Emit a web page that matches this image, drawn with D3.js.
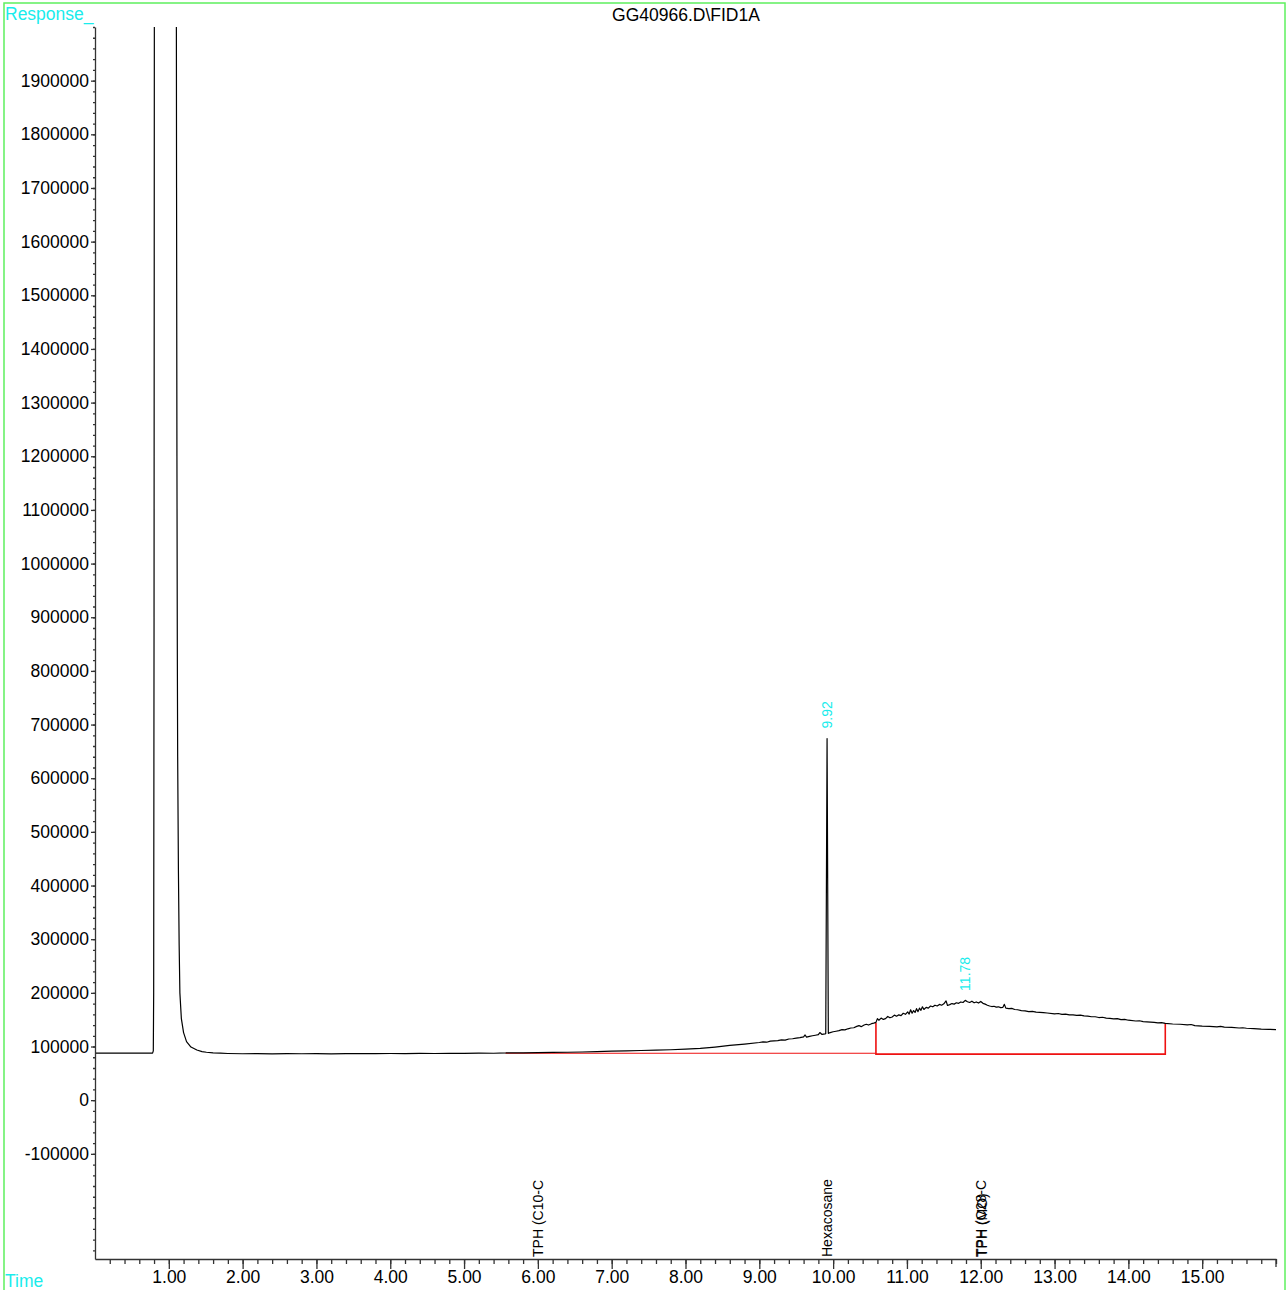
<!DOCTYPE html>
<html>
<head>
<meta charset="utf-8">
<script src="https://cdn.jsdelivr.net/npm/d3@7"></script>
<style>
  html, body { margin: 0; padding: 0; background: #fff; }
  svg { display: block; font-family: "Liberation Sans", Arial, sans-serif; }
</style>
</head>
<body>
<svg id="chart" width="1288" height="1290"></svg>
<script>
// ---------------- DATA ----------------
const chartTitle = "GG40966.D\\FID1A";
const yAxisTitle = "Response_";
const xAxisTitle = "Time";

const xTickValues = [1, 2, 3, 4, 5, 6, 7, 8, 9, 10, 11, 12, 13, 14, 15];
const yTickValues = [-100000, 0, 100000, 200000, 300000, 400000, 500000, 600000, 700000, 800000,
  900000, 1000000, 1100000, 1200000, 1300000, 1400000, 1500000, 1600000, 1700000, 1800000, 1900000];

// chromatogram trace: [time (min), response]
const chromData = [
  [0.00, 87500], [0.50, 87500], [0.78, 87600], [0.79, 92000], [0.795, 200000], [0.80, 900000], [0.805, 2300000],
  [0.95, 3500000], [1.10, 2300000], [1.105, 1700000], [1.11, 1200000], [1.115, 850000], [1.12, 640000],
  [1.13, 430000], [1.14, 290000], [1.15, 200000], [1.17, 152000], [1.20, 126000], [1.24, 109000],
  [1.30, 99000], [1.38, 93500], [1.45, 90500], [1.51, 89300], [1.60, 88000], [1.70, 87500], [1.80, 87000],
  [2.00, 86500], [2.20, 86800], [2.40, 86400], [2.60, 86700], [2.80, 86500], [3.00, 86900], [3.20, 86400],
  [3.40, 86600], [3.60, 86800], [3.80, 86600], [4.00, 87000], [4.20, 86900], [4.40, 87100], [4.60, 87000],
  [4.80, 87300], [5.00, 87200], [5.20, 87500], [5.40, 87400], [5.57, 88000], [5.60, 88200], [5.80, 88000],
  [6.00, 88600], [6.20, 88900], [6.40, 89300], [6.60, 89800], [6.80, 90500], [7.00, 91300], [7.20, 91800],
  [7.40, 92600], [7.60, 93200], [7.80, 94000], [8.00, 95000], [8.20, 96500], [8.40, 99000], [8.60, 102000],
  [8.80, 104500], [9.00, 107500], [9.05, 108500], [9.10, 108000], [9.15, 110000], [9.20, 110500], [9.25, 111000],
  [9.30, 112500], [9.35, 112000], [9.40, 114000], [9.45, 114500], [9.50, 115500], [9.55, 116500], [9.60, 118000],
  [9.62, 121500], [9.64, 117500], [9.68, 119000], [9.72, 120000], [9.76, 121000], [9.80, 122000], [9.82, 126000],
  [9.85, 122500], [9.89, 123500], [9.90, 124000], [9.918, 674000], [9.935, 124500], [9.96, 126000], [10.00, 127500],
  [10.04, 128500], [10.08, 129500], [10.12, 131500], [10.16, 131000], [10.20, 133000], [10.24, 134500], [10.28, 135000],
  [10.32, 137500], [10.35, 139000], [10.38, 137000], [10.42, 140000], [10.45, 141500], [10.48, 140000], [10.52, 142500],
  [10.55, 143500], [10.58, 145000], [10.60, 152000], [10.62, 149000], [10.65, 153000], [10.68, 150500], [10.71, 152000],
  [10.74, 156000], [10.77, 153500], [10.80, 155000], [10.83, 158500], [10.86, 156500], [10.89, 159000], [10.92, 157500],
  [10.95, 162000], [10.98, 160000], [11.01, 164500], [11.03, 160500], [11.05, 168500], [11.07, 162000], [11.09, 167000],
  [11.11, 163500], [11.13, 170500], [11.15, 165000], [11.17, 171500], [11.19, 167500], [11.21, 174000], [11.23, 169000],
  [11.26, 173000], [11.29, 171500], [11.32, 175500], [11.35, 174000], [11.38, 177000], [11.41, 175500], [11.44, 178500],
  [11.47, 177000], [11.50, 179500], [11.53, 185000], [11.55, 176500], [11.58, 178000], [11.61, 180000], [11.64, 179000],
  [11.67, 181500], [11.70, 180500], [11.73, 183000], [11.76, 182000], [11.79, 186000], [11.82, 183500], [11.85, 182000],
  [11.88, 184500], [11.91, 181500], [11.94, 183000], [11.97, 181000], [12.00, 184000], [12.03, 180500], [12.06, 179000],
  [12.09, 177000], [12.12, 175500], [12.15, 174500], [12.18, 175000], [12.21, 173500], [12.24, 174000], [12.27, 172500],
  [12.30, 173000], [12.32, 178500], [12.34, 171500], [12.38, 170500], [12.42, 171000], [12.46, 169000], [12.50, 168500],
  [12.55, 167000], [12.60, 166500], [12.65, 165000], [12.70, 165500], [12.75, 164000], [12.80, 163500], [12.85, 163000],
  [12.90, 162500], [13.00, 161000], [13.05, 161500], [13.10, 160000], [13.15, 160500], [13.20, 159000], [13.25, 159000],
  [13.30, 158000], [13.35, 158500], [13.40, 157000], [13.45, 156500], [13.50, 155500], [13.55, 155500], [13.60, 154000],
  [13.65, 154500], [13.70, 153000], [13.75, 152500], [13.80, 151500], [13.85, 152000], [13.90, 150000], [13.95, 150500],
  [14.00, 149000], [14.10, 147500], [14.15, 148000], [14.20, 146500], [14.30, 145500], [14.35, 145000], [14.40, 144000],
  [14.45, 144500], [14.50, 143000], [14.60, 142000], [14.70, 141500], [14.80, 140500], [14.85, 141000], [14.90, 139000],
  [15.00, 138000], [15.10, 137500], [15.20, 136500], [15.25, 137500], [15.30, 136000], [15.40, 135500], [15.50, 134500],
  [15.55, 135000], [15.60, 134000], [15.70, 133500], [15.80, 132500], [15.90, 132000], [16.00, 131500]
];

// integration baselines: start time, end time, baseline response, curve response at start, curve response at end
const integStart    = [5.57, 10.58];
const integEnd      = [10.58, 14.50];
const integBase     = [87400, 85800];
const integTopStart = [89000, 144500];
const integTopEnd   = [87400, 143000];

// peak retention-time labels
const peakTimes  = [9.92, 11.78];
const peakResp   = [674000, 185000];
const peakLabels = ["9.92", "11.78"];

// compound labels along the time axis
const compoundTimes  = [6.00, 9.92, 12.00, 12.02];
const compoundLabels = ["TPH (C10-C", "Hexacosane", "TPH (C28-C", "TPH (MO)"];

// ---------------- DRAW ----------------
const svg = d3.select("#chart");
const plot = { left: 95, right: 1276, top: 27, bottom: 1259 };

const x = d3.scaleLinear().domain([0, 16]).range([plot.left, plot.right]);
const y = d3.scaleLinear().domain([-296000, 2000000]).range([plot.bottom, plot.top]);

// green frame
svg.append("rect")
  .attr("x", 4).attr("y", 3).attr("width", 1281).attr("height", 1300)
  .attr("fill", "none").attr("stroke", "#5ef05e").attr("stroke-width", 1.5);

// titles
svg.append("text").attr("x", 686).attr("y", 21).attr("text-anchor", "middle")
  .attr("font-size", 17.5).attr("fill", "#000").text(chartTitle);
svg.append("text").attr("x", 5).attr("y", 20)
  .attr("font-size", 17.5).attr("fill", "#19ecec").text(yAxisTitle);
svg.append("text").attr("x", 5).attr("y", 1287)
  .attr("font-size", 17.5).attr("fill", "#19ecec").text(xAxisTitle);

// Y axis
const axisColor = "#333";
const yMinor = d3.range(-280000, 2000001, 20000);
const yAxisMinor = d3.axisLeft(y).tickValues(yMinor).tickSize(2).tickFormat("").tickSizeOuter(0);
const gyMinor = svg.append("g").attr("transform", `translate(${plot.left},0)`).call(yAxisMinor);
gyMinor.selectAll("path, line").attr("stroke", axisColor).attr("stroke-width", 1.3);

const yAxis = d3.axisLeft(y).tickValues(yTickValues).tickSize(4).tickSizeOuter(0)
  .tickFormat(d => String(d)).tickPadding(2);
const gy = svg.append("g").attr("transform", `translate(${plot.left},0)`).call(yAxis);
gy.select(".domain").remove();
gy.selectAll("line").attr("stroke", axisColor).attr("stroke-width", 1.3);
gy.selectAll("text").attr("font-size", 17.5).attr("fill", "#000")
  .attr("font-family", "Liberation Sans, Arial, sans-serif");

// X axis
const xMinor = d3.range(0.2, 16.001, 0.2);
const xAxisMinor = d3.axisBottom(x).tickValues(xMinor).tickSize(5).tickFormat("").tickSizeOuter(0);
const gxMinor = svg.append("g").attr("transform", `translate(0,${plot.bottom})`).call(xAxisMinor);
gxMinor.selectAll("path, line").attr("stroke", axisColor).attr("stroke-width", 1.3);

const xAxis = d3.axisBottom(x).tickValues(xTickValues).tickSize(10).tickSizeOuter(0)
  .tickFormat(d3.format(".2f")).tickPadding(3);
const gx = svg.append("g").attr("transform", `translate(0,${plot.bottom})`).call(xAxis);
gx.select(".domain").remove();
gx.selectAll("line").attr("stroke", axisColor).attr("stroke-width", 1.3);
gx.selectAll("text").attr("font-size", 17.5).attr("fill", "#000").attr("dy", "0.65em")
  .attr("font-family", "Liberation Sans, Arial, sans-serif");
svg.append("line").attr("x1", x(16)).attr("x2", x(16))
  .attr("y1", plot.bottom).attr("y2", plot.bottom + 8).attr("stroke", axisColor).attr("stroke-width", 1.3);

// clip for plot area
svg.append("clipPath").attr("id", "plotClip").append("rect")
  .attr("x", plot.left + 1).attr("y", plot.top).attr("width", plot.right - plot.left)
  .attr("height", plot.bottom - plot.top);
const gPlot = svg.append("g").attr("clip-path", "url(#plotClip)");

// integration baselines
integStart.forEach((s, i) => {
  const pts = [[s, integTopStart[i]], [s, integBase[i]], [integEnd[i], integBase[i]], [integEnd[i], integTopEnd[i]]];
  gPlot.append("path")
    .attr("d", d3.line().x(d => x(d[0])).y(d => y(d[1]))(pts))
    .attr("fill", "none").attr("stroke", "#ee1111").attr("stroke-width", i === 1 ? 1.6 : 1.2);
});

// chromatogram
gPlot.append("path")
  .attr("d", d3.line().x(d => x(d[0])).y(d => y(d[1]))(chromData))
  .attr("fill", "none").attr("stroke", "#000").attr("stroke-width", 1.2)
  .attr("stroke-linejoin", "round");

// peak labels
peakTimes.forEach((t, i) => {
  const px = x(t) + 5, py = y(peakResp[i]) - 10;
  svg.append("text").attr("transform", `translate(${px},${py}) rotate(-90)`)
    .attr("font-size", 14).attr("fill", "#19ecec").text(peakLabels[i]);
});

// compound labels
compoundTimes.forEach((t, i) => {
  const px = x(t) + 5, py = plot.bottom - 2;
  svg.append("text").attr("transform", `translate(${px},${py}) rotate(-90)`)
    .attr("font-size", 14).attr("fill", "#000").text(compoundLabels[i]);
});
</script>
</body>
</html>
